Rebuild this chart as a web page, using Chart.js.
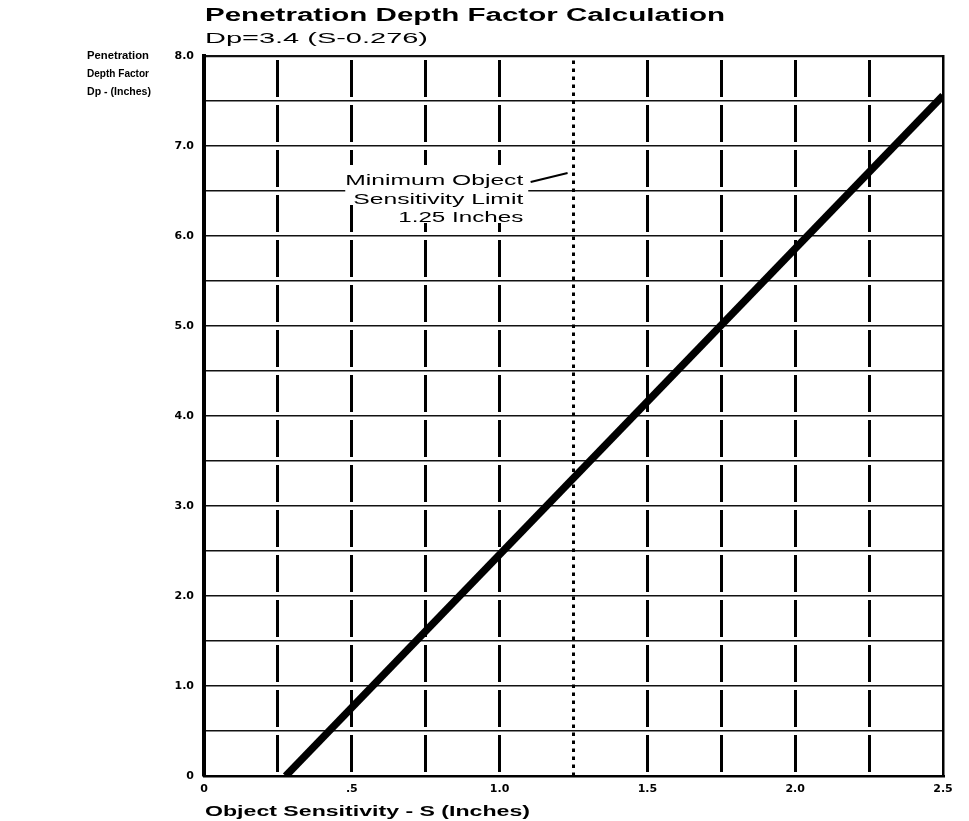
<!DOCTYPE html>
<html>
<head>
<meta charset="utf-8">
<title>Penetration Depth Factor Calculation</title>
<script src="https://cdn.jsdelivr.net/npm/chart.js@4.4.1/dist/chart.umd.min.js"></script>
<style>
  html, body { margin: 0; padding: 0; background: #fff; }
  canvas { display: block; }
</style>
</head>
<body>
<canvas id="chart" width="969" height="821"></canvas>
<script>
// Dp = 3.4 (S - 0.276), ends of the plotted line
var sensitivity = [0.276, 2.5];
var depthFactor = [0, 7.56];

// dotted minimum sensitivity limit
var limitS = [1.25, 1.25];
var limitDp = [0, 8];

var xTickLabels = ['0', '.5', '1.0', '1.5', '2.0', '2.5'];
var yTickLabels = ['0', '1.0', '2.0', '3.0', '4.0', '5.0', '6.0', '7.0', '8.0'];

var titleText = 'Penetration Depth Factor Calculation';
var formulaText = 'Dp=3.4 (S-0.276)';
var yTitleLines = ['Penetration', 'Depth Factor', 'Dp - (Inches)'];
var xTitleText = 'Object Sensitivity - S (Inches)';
var noteLines = ['Minimum Object', 'Sensitivity Limit', '1.25 Inches'];

var FONT = '"Liberation Sans", Arial, sans-serif';
var TICK_FONT = { family: '"DejaVu Sans", sans-serif', weight: 'bold', size: 11 };

// draws text squeezed / stretched to a given width (the scanned type is wide)
function fitText(ctx, text, x, y, font, width) {
    ctx.font = font;
    var w = ctx.measureText(text).width;
    ctx.save();
    ctx.translate(x, y);
    ctx.scale(width / w, 1);
    ctx.fillText(text, 0, 0);
    ctx.restore();
}

var textPlugin = {
    id: 'texts',
    afterDraw: function (chart) {
        var ctx = chart.ctx;
        var area = chart.chartArea;
        var xs = chart.scales.x, ys = chart.scales.y;

        ctx.save();
        ctx.fillStyle = '#000';
        ctx.textAlign = 'left';
        ctx.textBaseline = 'alphabetic';

        // headings
        fitText(ctx, titleText, area.left + 1, area.top - 35, 'bold 18px ' + FONT, 520);
        fitText(ctx, formulaText, area.left + 1, area.top - 13, '15px ' + FONT, 223);

        // y axis title, top left
        var yw = [62, 62, 64];
        yTitleLines.forEach(function (line, i) {
            fitText(ctx, line, 87, area.top + 3 + i * 18, 'bold 11px ' + FONT, yw[i]);
        });

        // x axis title
        fitText(ctx, xTitleText, area.left + 1, area.bottom + 40, 'bold 15px ' + FONT, 325);

        // note next to the limit line
        var nx = xs.getPixelForValue(1.08);
        var ny = ys.getPixelForValue(6.6);
        var nw = [178, 170, 125];
        var boxes = [[-185, -17, 190, 22], [-178, 3, 183, 20], [-131, 21, 136, 20]];
        ctx.fillStyle = '#fff';
        boxes.forEach(function (b) { ctx.fillRect(nx + b[0], ny + b[1], b[2], b[3]); });
        ctx.fillStyle = '#000';
        noteLines.forEach(function (line, i) {
            fitText(ctx, line, nx - nw[i], ny + 3 + i * 18.5, '14px ' + FONT, nw[i]);
        });

        // leader from the note toward the dotted line
        ctx.strokeStyle = '#000';
        ctx.lineWidth = 2;
        ctx.beginPath();
        ctx.moveTo(xs.getPixelForValue(1.105), ys.getPixelForValue(6.6));
        ctx.lineTo(xs.getPixelForValue(1.23), ys.getPixelForValue(6.7));
        ctx.stroke();
        ctx.restore();
    }
};

function pairs(xv, yv) {
    return xv.map(function (v, i) { return { x: v, y: yv[i] }; });
}

new Chart(document.getElementById('chart'), {
    type: 'scatter',
    data: {
        datasets: [
            {
                data: pairs(sensitivity, depthFactor),
                showLine: true,
                borderColor: '#000',
                borderWidth: 7.5,
                pointRadius: 0
            },
            {
                data: pairs(limitS, limitDp),
                showLine: true,
                borderColor: '#000',
                borderWidth: 3,
                borderDash: [3.5, 4.5],
                pointRadius: 0
            }
        ]
    },
    options: {
        responsive: false,
        devicePixelRatio: 1,
        animation: false,
        events: [],
        layout: { padding: { left: 150, top: 56, right: 26, bottom: 15 } },
        plugins: { legend: { display: false }, tooltip: { enabled: false } },
        scales: {
            x: {
                type: 'linear',
                min: 0,
                max: 2.5,
                ticks: {
                    stepSize: 0.25,
                    autoSkip: false,
                    maxRotation: 0,
                    padding: 7,
                    color: '#000',
                    font: TICK_FONT,
                    callback: function (v) {
                        var k = Math.round(v / 0.5);
                        return Math.abs(v - k * 0.5) < 1e-6 ? xTickLabels[k] : '';
                    }
                },
                grid: {
                    drawTicks: false,
                    lineWidth: 3,
                    color: function (c) {
                        var v = c.tick ? c.tick.value : 0;
                        return (v === 0 || v === 1.25 || v === 2.5) ? 'rgba(0,0,0,0)' : '#000';
                    }
                },
                // dash here breaks the vertical grid lines at each horizontal line
                border: { color: '#000', width: 2.5, dash: [37, 8], dashOffset: 41 },
                afterFit: function (s) { s.height = 30; }
            },
            y: {
                min: 0,
                max: 8,
                ticks: {
                    stepSize: 0.5,
                    autoSkip: false,
                    padding: 10,
                    color: '#000',
                    font: TICK_FONT,
                    callback: function (v) {
                        return Number.isInteger(v) ? yTickLabels[v] : '';
                    }
                },
                grid: {
                    drawTicks: false,
                    color: '#111',
                    lineWidth: function (c) { return c.tick && c.tick.value === 8 ? 2.2 : 1.4; }
                },
                border: { color: '#000', width: 4 },
                afterFit: function (s) { s.width = 54; }
            },
            y2: {
                position: 'right',
                min: 0,
                max: 8,
                ticks: { display: false },
                grid: { display: false },
                border: { color: '#000', width: 2.5 },
                afterFit: function (s) { s.width = 0; }
            }
        }
    },
    plugins: [textPlugin]
});
</script>
</body>
</html>
